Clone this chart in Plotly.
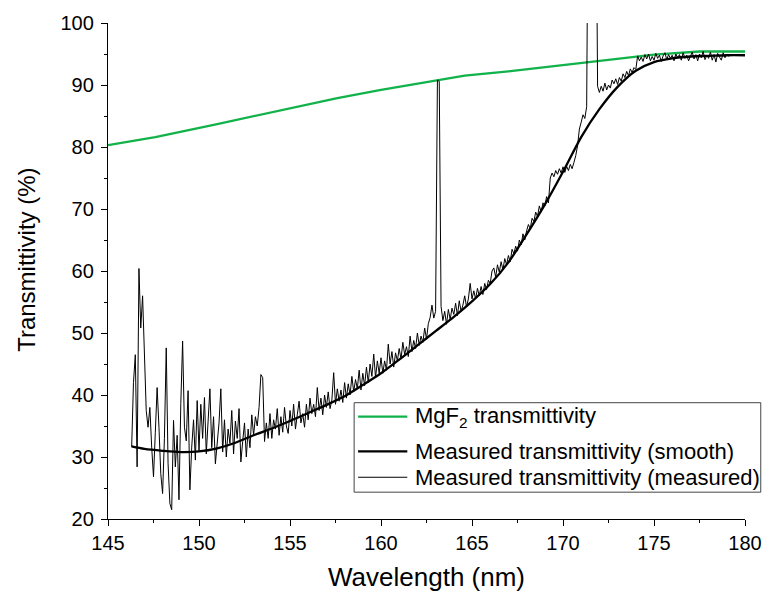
import numpy as np
import plotly.graph_objects as go

# ---------------- data ----------------
# MgF2 window transmittivity (%)
mgf2_wl = [145.0, 147.6, 151.0, 154.5, 157.6, 160.0, 163.0, 164.6, 167.0, 170.0, 173.0, 175.0, 177.5, 180.0]
mgf2_t = [80.3, 81.6, 83.7, 85.9, 87.9, 89.2, 90.7, 91.5, 92.2, 93.2, 94.2, 94.9, 95.4, 95.4]

# smoothed measured transmittivity (%)
smooth_wl = [146.3, 147, 148, 149, 150, 151, 152, 153, 154, 155, 156, 157, 158, 159, 160,
             161, 162, 163, 164, 165, 166, 167, 168, 169, 170, 171, 172, 173, 174, 175,
             176, 177, 178, 179, 180]
smooth_t = [31.7, 31.3, 31.0, 30.8, 30.9, 31.4, 32.3, 33.5, 34.6, 35.8, 37.1, 38.4, 39.8, 41.6, 43.5,
            45.7, 48.0, 50.3, 52.6, 55.1, 57.9, 61.4, 65.9, 70.7, 76.0, 81.6, 86.1, 89.7, 92.3, 93.7,
            94.3, 94.6, 94.7, 94.8, 94.8]

# raw measured transmittivity (%), sampled every 0.1 nm from 146.3 nm
meas_start = 146.3
meas_step = 0.1
meas_t = [
    31.6, 42.0, 46.5, 28.4, 60.4, 50.8, 56.0,                      # 146.3-146.9
    47.0, 37.5, 34.8, 38.0, 31.6, 26.8, 34.0, 41.2, 34.8, 27.3,    # 147
    24.1, 33.0, 47.6, 29.0, 22.5, 21.5, 35.9, 28.4, 33.5, 23.1,    # 148
    38.6, 48.7, 34.8, 32.6, 40.7, 24.7, 31.6, 36.0, 29.5, 39.1,    # 149
    31.0, 38.5, 33.0, 39.6, 30.5, 37.0, 41.0, 31.5, 36.5, 28.9,    # 150
    32.0, 35.5, 41.0, 30.8, 36.0, 30.0, 34.5, 32.2, 37.5, 30.5,    # 151
    35.8, 33.0, 37.8, 29.2, 32.5, 35.5, 30.0, 34.5, 31.5, 36.8,    # 152
    33.5, 36.5, 35.0, 38.0, 43.3, 42.8, 32.5, 35.5, 33.0, 37.0,    # 153
    33.0, 36.0, 34.5, 37.8, 33.5, 36.5, 34.0, 38.0, 35.0, 33.8,    # 154
    37.5, 35.0, 38.5, 34.5, 36.8, 39.0, 35.5, 37.0, 34.8, 38.5,    # 155
    36.0, 39.5, 37.0, 38.5, 36.5, 41.2, 37.5, 39.5, 36.8, 40.0,    # 156
    38.0, 40.5, 37.8, 39.2, 43.6, 38.5, 41.0, 39.0, 40.8, 38.8,    # 157
    42.0, 39.5, 41.8, 40.0, 43.0, 40.5, 42.5, 41.0, 44.0, 40.8,    # 158
    43.5, 41.5, 44.5, 42.0, 45.0, 43.0, 46.6, 42.8, 45.5, 43.5,    # 159
    46.0, 43.5, 45.5, 44.0, 48.2, 45.0, 47.0, 44.5, 46.8, 45.5,    # 160
    47.5, 45.8, 48.5, 46.5, 47.8, 46.2, 49.5, 47.0, 48.8, 47.5,    # 161
    50.0, 48.0, 49.5, 48.5, 50.8, 49.0, 51.5, 52.5, 54.5, 52.4,    # 162
    53.5, 90.8, 90.6, 54.3, 52.0, 53.5, 51.4, 53.8, 52.2, 54.0,    # 163
    53.0, 54.8, 52.8, 55.2, 53.5, 54.5, 56.0, 54.2, 55.5, 58.0,    # 164
    55.5, 56.8, 55.5, 57.2, 56.0, 57.5, 56.2, 58.0, 57.0, 58.5,    # 165
    58.0, 60.0, 60.5, 59.0, 61.0, 59.8, 61.5, 60.2, 62.0, 61.0,    # 166
    62.5, 61.5, 63.5, 62.8, 64.0, 63.2, 65.0, 64.2, 66.0, 65.0,    # 167
    66.5, 67.5, 66.8, 68.5, 68.0, 69.5, 68.8, 70.5, 69.5, 71.0,    # 168
    70.5, 72.0, 71.0, 75.0, 75.8, 75.2, 76.2, 75.6, 76.5, 75.8,    # 169
    76.8, 75.9, 76.9, 76.2, 77.2, 76.5, 77.5, 78.6, 80.2, 82.9,    # 170
    84.0, 85.2, 84.6, 86.5, 130.0, 135.0, 135.0, 135.0, 130.0, 89.8,  # 171
    88.8, 89.8, 89.0, 90.3, 89.2, 90.0, 89.5, 90.8, 90.2, 91.0,    # 172
    90.1, 91.2, 90.6, 91.8, 91.2, 92.2, 91.5, 92.6, 92.0, 92.8,    # 173
    92.5, 94.7, 93.9, 94.5, 93.8, 94.9, 94.2, 95.0, 93.9, 94.6,    # 174
    94.0, 95.1, 94.3, 94.8, 93.8, 94.7, 95.2, 94.1, 94.9, 94.3,    # 175
    94.8, 93.9, 95.0, 94.4, 94.9, 94.0, 95.2, 94.3, 94.8, 93.9,    # 176
    94.6, 95.3, 94.2, 94.9, 93.9, 95.0, 94.4, 95.4, 94.1, 94.8,    # 177
    94.3, 95.3, 94.0, 94.9, 93.7, 95.1, 94.5, 94.0, 95.2, 94.4,    # 178
    95.0, 94.6,                                                    # 179.0-179.1
]
meas_wl = np.round(meas_start + meas_step * np.arange(len(meas_t)), 2)

x_ticks = [145, 150, 155, 160, 165, 170, 175, 180]
y_ticks = [20, 30, 40, 50, 60, 70, 80, 90, 100]
x_title = "Wavelength (nm)"
y_title = "Transmittivity (%)"
series_names = ["MgF<sub>2</sub> transmittivity",
                "Measured transmittivity (smooth)",
                "Measured transmittivity (measured)"]

# ---------------- figure ----------------
FONT = "Liberation Sans, Arial"
L, R, T, B = 108, 19, 20, 75
W, H = 774, 594
plot_w = W - L - R
plot_h = H - T - B


def px_x(px):
    return (px - L) / plot_w


def px_y(py):
    return (H - B - py) / plot_h


styles = [dict(color="#12b24b", width=2.3),
          dict(color="black", width=2.3),
          dict(color="black", width=1)]

fig = go.Figure()
fig.add_trace(go.Scatter(x=mgf2_wl, y=mgf2_t, mode="lines",
                         line=styles[0], name=series_names[0]))
fig.add_trace(go.Scatter(x=smooth_wl, y=smooth_t, mode="lines",
                         line=dict(**styles[1], shape="spline", smoothing=0.8),
                         name=series_names[1]))
fig.add_trace(go.Scatter(x=meas_wl, y=meas_t, mode="lines",
                         line=styles[2], name=series_names[2]))

axis_common = dict(showline=True, linecolor="black", linewidth=1.3, mirror=False,
                   showgrid=False, zeroline=False, ticks="outside", ticklen=6,
                   tickwidth=1.3, tickcolor="black",
                   tickfont=dict(size=20, color="black", family=FONT))

# legend drawn as a framed box with line samples and text
leg_box = (358, 402, 771, 492)
leg_rows = [416, 451, 477]
shapes = [dict(type="rect", xref="paper", yref="paper",
               x0=px_x(leg_box[0]), x1=px_x(leg_box[2]),
               y0=px_y(leg_box[3]), y1=px_y(leg_box[1]),
               line=dict(color="#444444", width=1), fillcolor="white", layer="above")]
annotations = []
for name, st, row in zip(series_names, styles, leg_rows):
    shapes.append(dict(type="line", xref="paper", yref="paper",
                       x0=px_x(362), x1=px_x(412), y0=px_y(row), y1=px_y(row),
                       line=st, layer="above"))
    annotations.append(dict(text=name, xref="paper", yref="paper",
                            x=px_x(418), y=px_y(row), xanchor="left", yanchor="middle",
                            showarrow=False, font=dict(size=22, color="black", family=FONT)))

annotations += [
    dict(text=x_title, xref="paper", yref="paper", x=0.5, y=px_y(577),
         xanchor="center", yanchor="middle",
         showarrow=False, font=dict(size=26, color="black", family=FONT)),
    dict(text=y_title, xref="paper", yref="paper", x=px_x(25), y=px_y(258),
         xanchor="center", yanchor="middle", textangle=-90,
         showarrow=False, font=dict(size=24, color="black", family=FONT)),
]

fig.update_layout(
    width=W, height=H,
    margin=dict(l=L, r=R, t=T, b=B),
    plot_bgcolor="white", paper_bgcolor="white",
    font=dict(family=FONT, color="black"),
    xaxis=dict(range=[145, 180], tickvals=x_ticks,
               minor=dict(dtick=2.5, tick0=145, ticks="outside", ticklen=3,
                          tickwidth=1.3, tickcolor="black", showgrid=False),
               **axis_common),
    yaxis=dict(range=[20, 100], tickvals=y_ticks, ticklabelstandoff=3,
               minor=dict(dtick=5, tick0=20, ticks="outside", ticklen=3,
                          tickwidth=1.3, tickcolor="black", showgrid=False),
               **axis_common),
    showlegend=False,
    shapes=shapes,
    annotations=annotations,
)

fig.write_html("out.html", config={"displayModeBar": False},
               post_script="document.body.style.margin='0';")
